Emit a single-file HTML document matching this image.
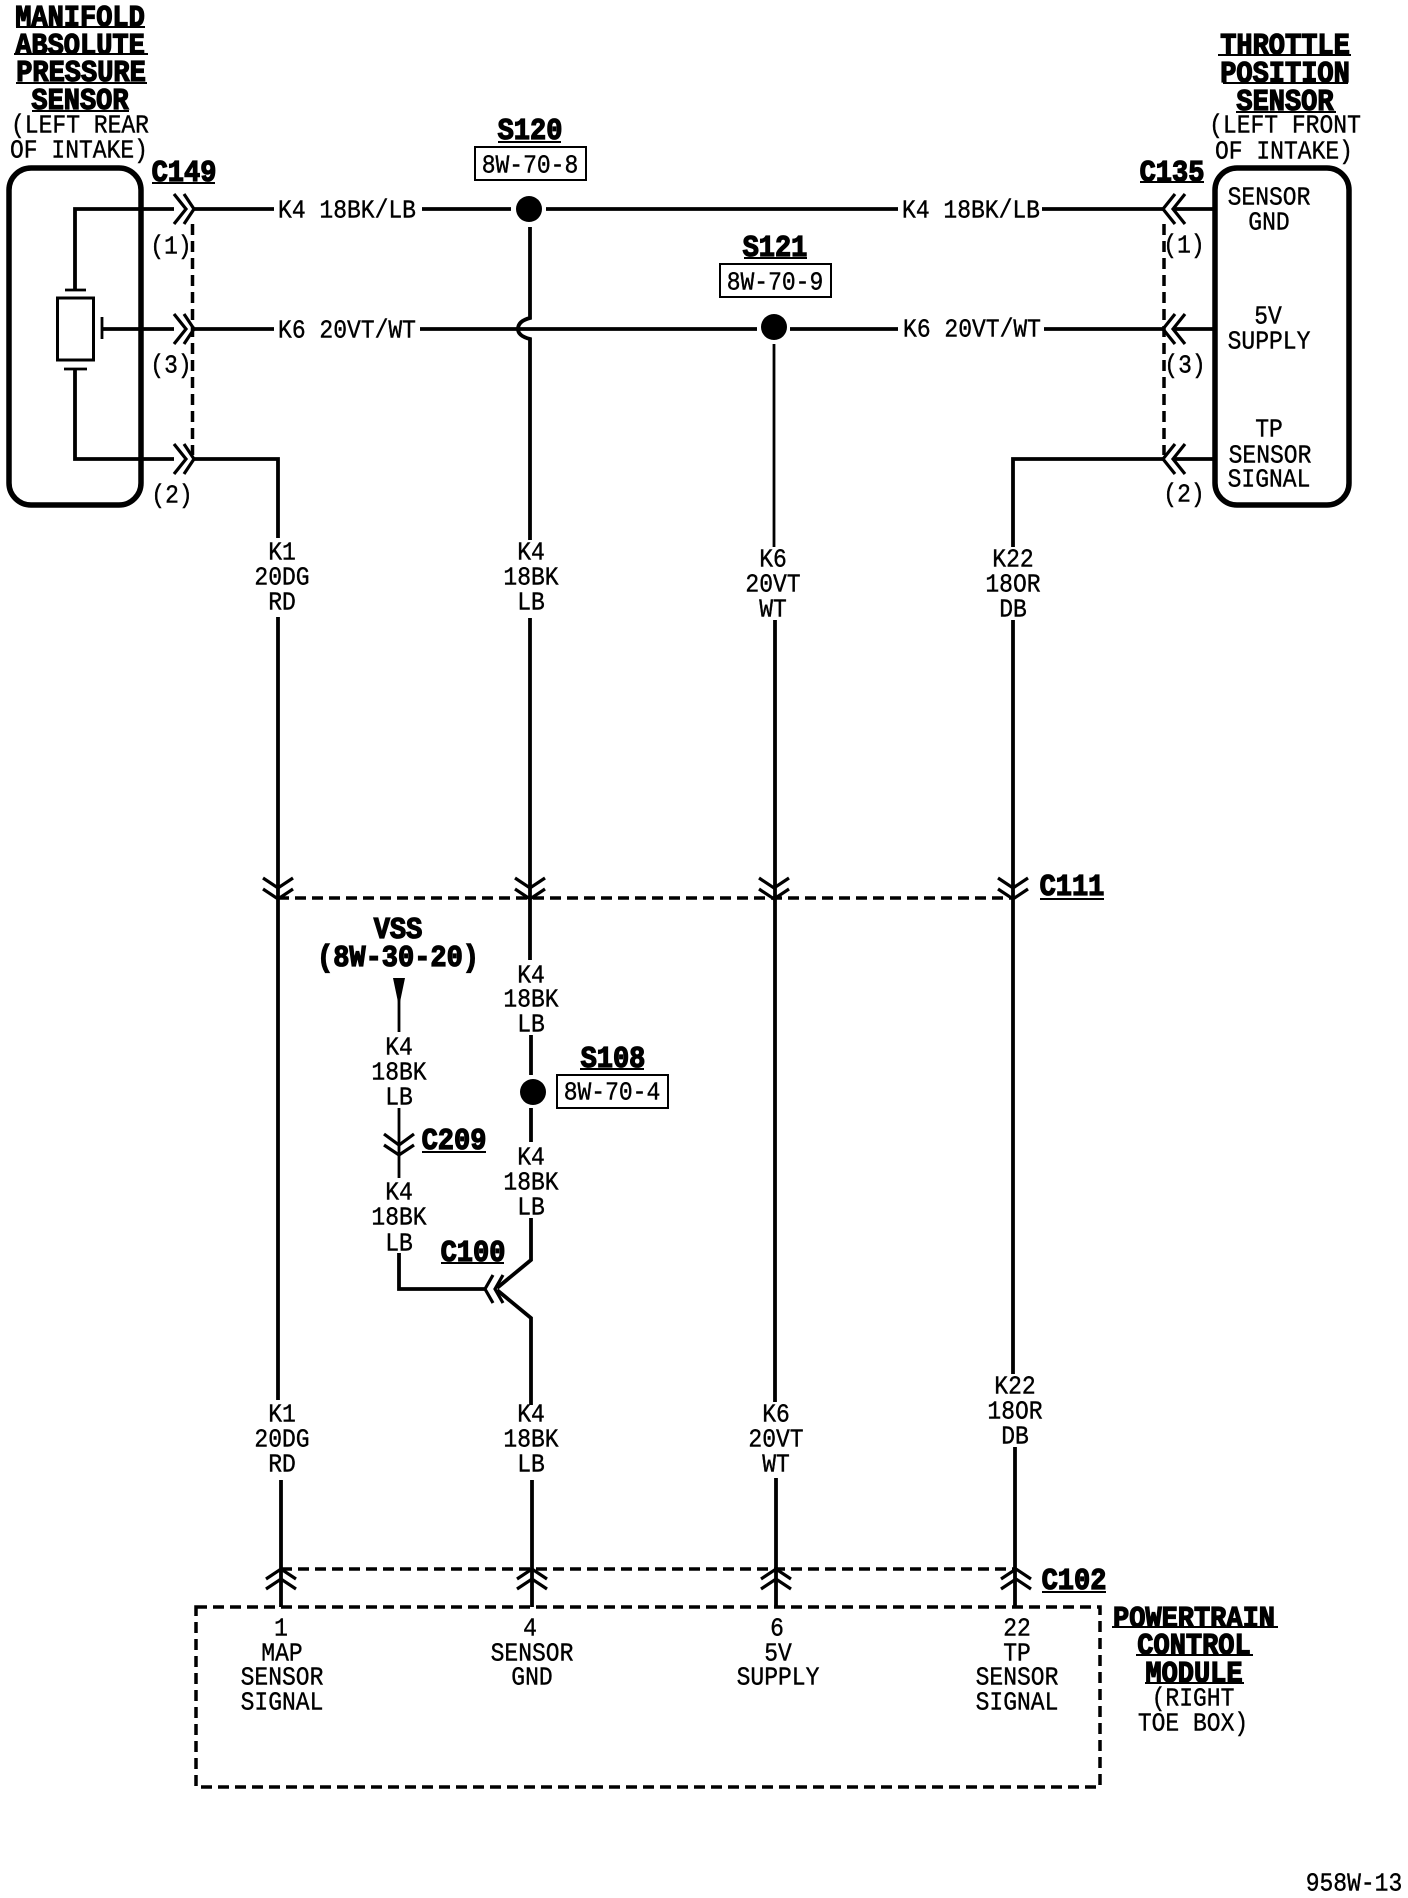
<!DOCTYPE html>
<html><head><meta charset="utf-8"><style>
html,body{margin:0;padding:0;background:#fff;width:1408px;height:1898px;overflow:hidden}
svg{display:block}
text{font-family:"Liberation Mono",monospace;fill:#000;text-anchor:middle;dominant-baseline:central;transform-box:fill-box;transform-origin:center}
.t{font-size:23px;stroke:#000;stroke-width:.35px;transform:translateY(1.7px) scaleY(1.12)}
.b{font-size:27px;font-weight:bold;stroke:#000;stroke-width:1.2px;transform:translateY(2px) scaleY(1.12)}
.w{fill:none;stroke:#000;stroke-width:3.8}
.n{fill:none;stroke:#000;stroke-width:2.8}
.c{fill:none;stroke:#000;stroke-width:3.2}
.d{fill:none;stroke:#000;stroke-width:3.5;stroke-dasharray:11 6}
.u{stroke:#000;stroke-width:2}
.x{fill:#fff;stroke:#000;stroke-width:2}
</style></head><body>
<svg width="1408" height="1898" viewBox="0 0 1408 1898" xmlns="http://www.w3.org/2000/svg">
<rect width="1408" height="1898" fill="#fff"/>
<!-- sensor boxes -->
<rect x="9" y="168" width="132" height="337" rx="22" fill="none" stroke="#000" stroke-width="5.5"/>
<rect x="1215" y="168" width="134" height="337" rx="22" fill="none" stroke="#000" stroke-width="5.5"/>
<!-- MAP internals -->
<path class="w" d="M174 209H75V290"/>
<path class="n" d="M65 290H86M64 369H87"/>
<rect x="57.500" y="298" width="36" height="62" fill="none" stroke="#000" stroke-width="3"/>
<path class="n" d="M102 317V339"/>
<path class="w" d="M102 329H174M75 369V459H174"/>
<!-- C149 chevrons -->
<path class="c" d="M174 194L186 209L174 224M184 194L194 209L184 224M174 314L186 329L174 344M184 314L194 329L184 344M174 444L186 459L174 474M184 444L194 459L184 474"/>
<path class="d" d="M192.500 224V455"/>
<!-- C135 chevrons -->
<path class="c" d="M1175 194L1163 209L1175 224M1185 194L1173 209L1185 224M1175 314L1163 329L1175 344M1185 314L1173 329L1185 344M1175 444L1163 459L1175 474M1185 444L1173 459L1185 474"/>
<path class="d" d="M1164 224V455"/>
<!-- horizontal wires -->
<path class="w" d="M194 209H274M422 209H511M546 209H898M1042 209H1163M1173 209H1215"/>
<path class="w" d="M194 329H274M420 329H757M790 329H898M1044 329H1163M1173 329H1215"/>
<path class="w" d="M194 459H278V538M278 617V1400M281 1480V1607"/>
<path class="w" d="M1215 459H1173M1163 459H1013V547M1013 620V1374M1015 1447V1607"/>
<!-- k4 centre -->
<path class="w" d="M530 227V318Q518 321 518 329Q518 336 530 339V540M530 618V960M531 1035V1075M531 1108V1142M531 1218V1260L497 1288M497 1290L531 1318V1405M532 1480V1607"/>
<!-- k6 -->
<path class="n" d="M774 344V547"/>
<path class="w" d="M775 620V1402M776 1478V1607"/>
<!-- dots -->
<circle cx="529" cy="209" r="13"/>
<circle cx="774" cy="327" r="13"/>
<circle cx="533" cy="1092" r="13"/>
<!-- C111 -->
<path class="c" d="M263 878L278 888L293 878M263 889L278 899L293 889M515 878L530 888L545 878M515 889L530 899L545 889M759 878L774 888L789 878M759 889L774 899L789 889M998 878L1013 888L1028 878M998 889L1013 899L1028 889"/>
<path class="d" d="M278 898H1013"/>
<!-- VSS / C209 -->
<path d="M393 978H405L400 1002H398Z"/>
<path class="n" d="M399 995V1032M399 1108V1178"/>
<path class="w" d="M399 1253V1289H485"/>
<path class="c" d="M384 1134L399 1145L414 1134M384 1145L399 1155L414 1145"/>
<!-- C100 -->
<path class="c" d="M493 1275L485 1289L493 1303M503 1275L495 1289L503 1303"/>
<!-- C102 -->
<path class="c" d="M266 1579L281 1569L296 1579M266 1589L281 1579L296 1589M517 1579L532 1569L547 1579M517 1589L532 1579L547 1589M761 1579L776 1569L791 1579M761 1589L776 1579L791 1589M1001 1579L1016 1569L1031 1579M1001 1589L1016 1579L1031 1589"/>
<path class="d" d="M281 1569H1016"/>
<rect x="196" y="1607" width="904" height="180" class="d"/>
<!-- reference boxes -->
<rect x="475" y="147" width="111" height="33" class="x"/>
<rect x="720" y="264" width="111" height="33" class="x"/>
<rect x="557" y="1075" width="111" height="33" class="x"/>
<!-- underlines -->
<path class="u" d="M16 27H145M14 54H148M16 83H147M32 111H129M152 183H215M498 142H561M1218 55H1351M1223 83H1348M1236 112H1336M1140 182H1204M744 258H807M1040 899H1104M422 1152H486M580 1069H644M441 1263H504M1042 1592H1106M1112 1627H1278M1136 1655H1253M1145 1683H1244"/>
<!-- headings -->
<text class="b" x="80" y="16">MANIFOLD</text>
<text class="b" x="80" y="44">ABSOLUTE</text>
<text class="b" x="81" y="71">PRESSURE</text>
<text class="b" x="80" y="99">SENSOR</text>
<text class="t" x="80" y="125">(LEFT REAR</text>
<text class="t" x="79" y="150">OF INTAKE)</text>
<text class="b" x="184" y="171">C149</text>
<text class="t" x="171" y="246">(1)</text>
<text class="t" x="171" y="365">(3)</text>
<text class="t" x="172" y="495">(2)</text>
<text class="b" x="530" y="129">S120</text>
<text class="t" x="530" y="165">8W-70-8</text>
<text class="b" x="775" y="246">S121</text>
<text class="t" x="775" y="282">8W-70-9</text>
<text class="b" x="1285" y="44">THROTTLE</text>
<text class="b" x="1285" y="72">POSITION</text>
<text class="b" x="1285" y="100">SENSOR</text>
<text class="t" x="1285" y="125">(LEFT FRONT</text>
<text class="t" x="1284" y="151">OF INTAKE)</text>
<text class="b" x="1172" y="171">C135</text>
<text class="t" x="1269" y="197">SENSOR</text>
<text class="t" x="1269" y="222">GND</text>
<text class="t" x="1268" y="316">5V</text>
<text class="t" x="1269" y="341">SUPPLY</text>
<text class="t" x="1269" y="429">TP</text>
<text class="t" x="1270" y="455">SENSOR</text>
<text class="t" x="1269" y="479">SIGNAL</text>
<text class="t" x="1184" y="245">(1)</text>
<text class="t" x="1185" y="365">(3)</text>
<text class="t" x="1184" y="494">(2)</text>
<!-- wire labels -->
<text class="t" x="347" y="210">K4 18BK/LB</text>
<text class="t" x="347" y="330">K6 20VT/WT</text>
<text class="t" x="971" y="210">K4 18BK/LB</text>
<text class="t" x="972" y="329">K6 20VT/WT</text>
<text class="t" x="282" y="552">K1</text><text class="t" x="282" y="577">20DG</text><text class="t" x="282" y="602">RD</text>
<text class="t" x="531" y="552">K4</text><text class="t" x="531" y="577">18BK</text><text class="t" x="531" y="602">LB</text>
<text class="t" x="773" y="559">K6</text><text class="t" x="773" y="584">20VT</text><text class="t" x="773" y="609">WT</text>
<text class="t" x="1013" y="559">K22</text><text class="t" x="1013" y="584">18OR</text><text class="t" x="1013" y="609">DB</text>
<text class="b" x="1072" y="885">C111</text>
<text class="b" x="398" y="928">VSS</text>
<text class="b" x="398" y="956">(8W-30-20)</text>
<text class="t" x="531" y="975">K4</text><text class="t" x="531" y="999">18BK</text><text class="t" x="531" y="1024">LB</text>
<text class="b" x="613" y="1057">S108</text>
<text class="t" x="612" y="1092">8W-70-4</text>
<text class="t" x="531" y="1157">K4</text><text class="t" x="531" y="1182">18BK</text><text class="t" x="531" y="1207">LB</text>
<text class="t" x="399" y="1047">K4</text><text class="t" x="399" y="1072">18BK</text><text class="t" x="399" y="1097">LB</text>
<text class="b" x="454" y="1139">C209</text>
<text class="t" x="399" y="1192">K4</text><text class="t" x="399" y="1217">18BK</text><text class="t" x="399" y="1243">LB</text>
<text class="b" x="473" y="1251">C100</text>
<text class="t" x="282" y="1414">K1</text><text class="t" x="282" y="1439">20DG</text><text class="t" x="282" y="1464">RD</text>
<text class="t" x="531" y="1414">K4</text><text class="t" x="531" y="1439">18BK</text><text class="t" x="531" y="1464">LB</text>
<text class="t" x="776" y="1414">K6</text><text class="t" x="776" y="1439">20VT</text><text class="t" x="776" y="1464">WT</text>
<text class="t" x="1015" y="1386">K22</text><text class="t" x="1015" y="1411">18OR</text><text class="t" x="1015" y="1436">DB</text>
<text class="b" x="1074" y="1579">C102</text>
<!-- PCM pins -->
<text class="t" x="281" y="1628">1</text><text class="t" x="282" y="1653">MAP</text><text class="t" x="282" y="1677">SENSOR</text><text class="t" x="282" y="1702">SIGNAL</text>
<text class="t" x="530" y="1628">4</text><text class="t" x="532" y="1653">SENSOR</text><text class="t" x="532" y="1677">GND</text>
<text class="t" x="777" y="1628">6</text><text class="t" x="778" y="1653">5V</text><text class="t" x="778" y="1677">SUPPLY</text>
<text class="t" x="1017" y="1628">22</text><text class="t" x="1017" y="1653">TP</text><text class="t" x="1017" y="1677">SENSOR</text><text class="t" x="1017" y="1702">SIGNAL</text>
<text class="b" x="1194" y="1617">POWERTRAIN</text>
<text class="b" x="1194" y="1644">CONTROL</text>
<text class="b" x="1194" y="1672">MODULE</text>
<text class="t" x="1193" y="1698">(RIGHT</text>
<text class="t" x="1193" y="1723">TOE BOX)</text>
<text class="t" x="1354" y="1883">958W-13</text>
</svg>
</body></html>
